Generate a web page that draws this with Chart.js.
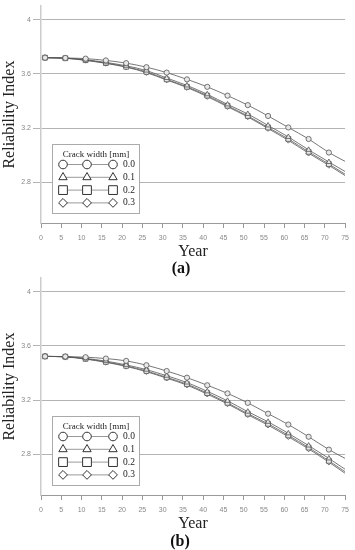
<!DOCTYPE html>
<html>
<head>
<meta charset="utf-8">
<script src="https://cdn.jsdelivr.net/npm/chart.js@4/dist/chart.umd.min.js"></script>
<style>
    body { margin: 0; background: #fff; }
    .wrap { position: relative; width: 355px; height: 550px; }
    canvas { position: absolute; left: 0; }
    .tag { position: absolute; font: bold 16px "Liberation Serif", serif; color: #111; transform: translate(-50%, -50%); }
</style>
</head>
<body>
<div class="wrap">
    <canvas id="chartA" width="355" height="272" style="top:0"></canvas>
    <canvas id="chartB" width="355" height="272" style="top:272px"></canvas>
    <div class="tag" style="left:181px;top:268px">(a)</div>
    <div class="tag" style="left:180px;top:541px">(b)</div>
</div>
<script>
const years = [1, 6, 11, 16, 21, 26, 31, 36, 41, 46, 51, 56, 61, 66, 71, 75];
const crackWidths = ['0.0', '0.1', '0.2', '0.3'];
const yTicks = [2.8, 3.2, 3.6, 4];
const yTickLabels = ['2.8', '3.2', '3.6', '4'];

// (a)
const aCrack00 = [3.72, 3.718, 3.713, 3.70, 3.68, 3.65, 3.61, 3.56, 3.505, 3.44, 3.37, 3.29, 3.205, 3.12, 3.02, 2.955];
const aCrack01 = [3.72, 3.717, 3.705, 3.685, 3.66, 3.625, 3.57, 3.515, 3.45, 3.375, 3.305, 3.22, 3.135, 3.04, 2.95, 2.88];
const aCrack02 = [3.72, 3.716, 3.702, 3.68, 3.653, 3.615, 3.56, 3.505, 3.44, 3.365, 3.29, 3.205, 3.12, 3.025, 2.935, 2.86];
const aCrack03 = [3.72, 3.716, 3.70, 3.678, 3.65, 3.61, 3.555, 3.50, 3.433, 3.358, 3.283, 3.197, 3.11, 3.015, 2.925, 2.85];

// (b)
const bCrack00 = [3.523, 3.522, 3.517, 3.507, 3.49, 3.458, 3.415, 3.366, 3.31, 3.25, 3.18, 3.10, 3.02, 2.93, 2.835, 2.77];
const bCrack01 = [3.523, 3.52, 3.508, 3.488, 3.46, 3.425, 3.38, 3.33, 3.265, 3.195, 3.115, 3.04, 2.955, 2.865, 2.77, 2.69];
const bCrack02 = [3.523, 3.52, 3.505, 3.482, 3.453, 3.415, 3.368, 3.318, 3.252, 3.18, 3.10, 3.025, 2.94, 2.85, 2.752, 2.672];
const bCrack03 = [3.523, 3.519, 3.503, 3.479, 3.449, 3.41, 3.362, 3.311, 3.244, 3.172, 3.092, 3.015, 2.93, 2.84, 2.742, 2.66];

const pointStyles = ['circle', 'triangle', 'rect', 'rectRot'];
const plotRadius = [2.6, 3.0, 3.4, 2.8];
const legendRadius = [4.3, 4.8, 6.2, 4.4];
const serif = '"Liberation Serif", "Times New Roman", serif';

// legend with three markers per row, drawn on the canvas
const crackLegend = {
    id: 'crackLegend',
    afterDatasetsDraw(chart) {
        const { ctx, chartArea } = chart;
        const left = chartArea.left + 11;
        const top = chartArea.bottom - 79;
        ctx.save();
        ctx.fillStyle = '#fff';
        ctx.fillRect(left, top, 87, 69);
        ctx.strokeStyle = '#aaa';
        ctx.lineWidth = 1;
        ctx.strokeRect(left + 0.5, top + 0.5, 87, 69);

        ctx.fillStyle = '#222';
        ctx.font = '9px ' + serif;
        ctx.textAlign = 'center';
        ctx.textBaseline = 'middle';
        ctx.fillText('Crack width [mm]', left + 44, top + 11);

        crackWidths.forEach((label, i) => {
            const y = top + 20.5 + i * 12.8;
            ctx.strokeStyle = '#999';
            ctx.lineWidth = 1;
            ctx.beginPath();
            ctx.moveTo(left + 11, y);
            ctx.lineTo(left + 61, y);
            ctx.stroke();
            [11, 35, 61].forEach(dx => {
                ctx.fillStyle = '#fff';
                ctx.strokeStyle = '#333';
                ctx.lineWidth = 1;
                Chart.helpers.drawPoint(ctx, { pointStyle: pointStyles[i], radius: legendRadius[i], borderWidth: 1, rotation: 0 }, left + dx, y);
            });
            ctx.fillStyle = '#222';
            ctx.font = '9.5px ' + serif;
            ctx.textAlign = 'left';
            ctx.fillText(label, left + 71, y);
        });
        ctx.restore();
    }
};

function makeDatasets(seriesList) {
    return seriesList.map((vals, i) => ({
        label: crackWidths[i],
        data: years.map((x, j) => ({ x: x, y: vals[j] })),
        borderColor: '#555',
        borderWidth: 0.8,
        pointStyle: pointStyles[i],
        pointRadius: ctx => ctx.dataIndex === years.length - 1 ? 0 : plotRadius[i],
        pointBorderColor: '#555',
        pointBackgroundColor: '#e8e8e8',
        pointBorderWidth: 0.8,
        cubicInterpolationMode: 'monotone',
        fill: false
    }));
}

function makeChart(id, seriesList) {
    return new Chart(document.getElementById(id), {
        type: 'line',
        data: { datasets: makeDatasets(seriesList) },
        plugins: [crackLegend],
        options: {
            responsive: false,
            animation: false,
            layout: { padding: { top: 5, right: 7, left: 0, bottom: 0 } },
            plugins: { legend: { display: false }, tooltip: { enabled: false } },
            scales: {
                x: {
                    type: 'linear',
                    min: 0,
                    max: 75,
                    afterFit: s => { s.height = 49; },
                    ticks: { stepSize: 5, padding: 6, color: '#888', font: { family: '"Liberation Sans", Arial, sans-serif', size: 7 } },
                    grid: { drawOnChartArea: false, drawTicks: true, tickLength: 5, color: '#999' },
                    border: { color: '#999', width: 1 },
                    title: { display: true, text: 'Year', color: '#222', font: { family: serif, size: 16 }, padding: { top: 0, bottom: 10.7 } }
                },
                y: {
                    min: 2.5,
                    max: 4.1,
                    afterFit: s => { s.width = 41; },
                    afterBuildTicks: s => { s.ticks = yTicks.map(v => ({ value: v })); },
                    ticks: {
                        padding: 2,
                        color: '#888',
                        font: { family: '"Liberation Sans", Arial, sans-serif', size: 7 },
                        callback: (v, idx) => yTickLabels[idx]
                    },
                    grid: { color: '#b4b4b4', lineWidth: 1, tickLength: 8 },
                    border: { color: '#ccc', width: 1.5 },
                    title: { display: true, text: 'Reliability Index', color: '#222', font: { family: serif, size: 16 }, padding: 0 }
                }
            }
        }
    });
}

makeChart('chartA', [aCrack00, aCrack01, aCrack02, aCrack03]);
makeChart('chartB', [bCrack00, bCrack01, bCrack02, bCrack03]);
</script>
</body>
</html>
